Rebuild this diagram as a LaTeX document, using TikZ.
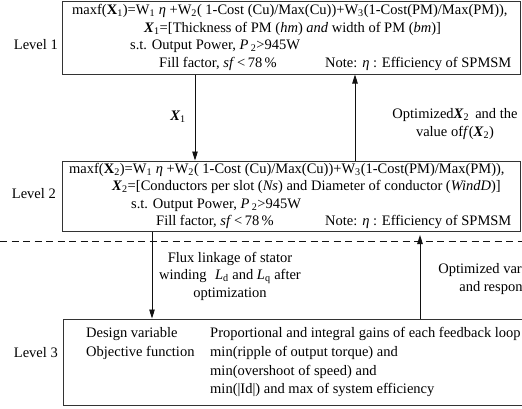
\documentclass[tikz,border=0pt]{standalone}
\usepackage{fontspec}
\setmainfont{Liberation Serif}
\usetikzlibrary{arrows.meta,positioning}
\definecolor{ink}{HTML}{111111}
\definecolor{frame}{HTML}{333333}
\newcommand{\lsub}[1]{\textsubscript{#1}}
\newcommand{\bX}{\textbf{\textit{X}}}
\tikzset{
  lvbox/.style={draw=frame,line width=1pt,inner sep=0pt,minimum width=458pt},
  txt/.style={font=\fontsize{14.5}{17}\selectfont,inner sep=0pt,anchor=west},
  lvl/.style={font=\fontsize{14.5}{17}\selectfont,inner sep=0pt,anchor=east},
  mlbl/.style={font=\fontsize{14.5}{17.5}\selectfont,inner sep=0pt,align=center},
  arr/.style={ink,line width=0.9pt,-{Triangle[length=9pt,width=5.5pt]}},
  sepline/.style={ink,line width=0.8pt,dash pattern=on 7pt off 4.5pt},
}

\begin{document}
\begin{tikzpicture}[x=1pt,y=-1pt]
  \useasboundingbox (0,0) rectangle (522,408);
  \clip (0,0) rectangle (522,408);
  % ===================== level 1 =====================
  \node[lvbox,minimum height=73pt] (boxone) at (291,37.5) {};
  \node[lvl] (lvone) at (58,45) {Level 1};
  \node[txt] (objone) at (72,11)
    {maxf(\textbf{X}\lsub{1})=W\lsub{1} \textit{η} +W\lsub{2}( 1-Cost (Cu)/Max(Cu))+W\lsub{3}(1-Cost(PM)/Max(PM)),};
  \node[txt] (varone) at (144,29)
    {\bX\lsub{1}=[Thickness of PM (\textit{hm}) \textit{and} width of PM (\textit{bm})]};
  \node[txt] (powone) at (130,46) {s.t. Output Power, \textit{P}\,\lsub{2}>945W};
  \node[txt] (fillone) at (159,64) {Fill factor, \textit{sf}\,<\,78\,\%};
  \node[txt] (noteone) at (325,64) {Note: \textit{η} : Efficiency of SPMSM};
  % ===================== level 2 =====================
  \node[lvbox,minimum height=70pt] (boxtwo) at (291,196) {};
  \node[lvl] (lvtwo) at (56,194) {Level 2};
  \node[txt] (objtwo) at (69,170)
    {maxf(\textbf{X}\lsub{2})=W\lsub{1} \textit{η} +W\lsub{2}( 1-Cost (Cu)/Max(Cu))+W\lsub{3}(1-Cost(PM)/Max(PM)),};
  \node[txt] (vartwo) at (112,187)
    {\bX\lsub{2}=[Conductors per slot (\textit{Ns}) and Diameter of conductor (\textit{WindD})]};
  \node[txt] (powtwo) at (131,205) {s.t. Output Power, \textit{P}\,\lsub{2}>945W};
  \node[txt] (filltwo) at (156,222) {Fill factor, \textit{sf}\,<\,78\,\%};
  \node[txt] (notetwo) at (325,222) {Note: \textit{η} : Efficiency of SPMSM};
  \draw[sepline] (0,241) -- (522,241);
  % ===================== level 3 =====================
  \node[lvbox,minimum width=482pt,minimum height=86pt] (boxthree) at (304,362) {};
  \node[lvl] (lvthree) at (58,353) {Level 3};
  \node[txt] (desvar) at (86,334) {Design variable};
  \node[txt] (objfun) at (86,353) {Objective function};
  \node[txt] (gains) at (210,334) {Proportional and integral gains of each feedback loop};
  \node[txt] (minrip) at (210,353) {min(ripple of output torque) and};
  \node[txt] (minover) at (210,372) {min(overshoot of speed) and};
  \node[txt] (minid) at (210,390) {min(|Id|) and max of system efficiency};
  % ===================== connectors =====================
  \coordinate (xdown) at (195,0);
  \coordinate (xup) at (355,0);
  \coordinate (xflux) at (152,0);
  \coordinate (tipthree) at (420,235);
  \draw[arr] (boxone.south-|xdown) -- (boxtwo.north-|xdown);
  \draw[arr] (boxtwo.north-|xup) -- (boxone.south-|xup);
  \draw[arr] (boxtwo.south-|xflux) -- (boxthree.north-|xflux);
  \draw[arr] (boxthree.north-|tipthree) -- (tipthree);
  \node[lvl] (lblx) at (186,117) {\bX\lsub{1}};
  \node[mlbl] (lblopt) at (455,124) {Optimized\bX\lsub{2}\, and the\\value of\textit{f}(\bX\lsub{2})};
  \node[mlbl] (lblflux) at (230,276) {Flux linkage of stator\\winding\,\, \textit{L}\lsub{d} and \textit{L}\lsub{q} after\\optimization};
  \node[mlbl] (lblresp) at (497,279) {Optimized variables\\and response};
\end{tikzpicture}
\end{document}
